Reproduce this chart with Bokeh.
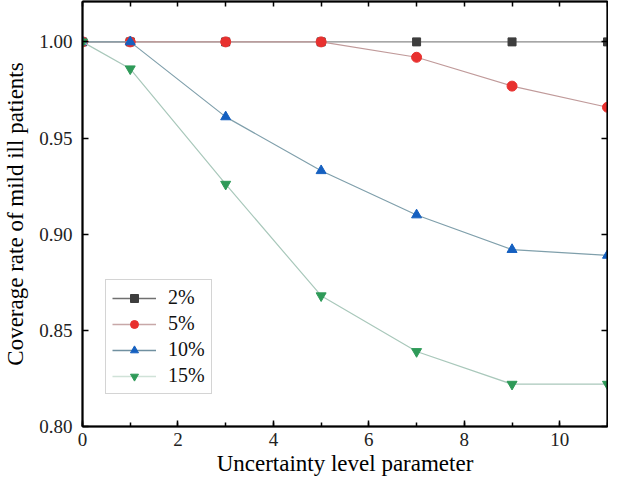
from bokeh.plotting import figure
from bokeh.models import (LinearAxis, SingleIntervalTicker, Range1d, Legend, LegendItem,
                          PrintfTickFormatter, CustomJSTickFormatter)
from bokeh.embed import file_html
from bokeh.resources import INLINE

x_vals = [0, 1, 3, 5, 7, 9, 11]
s2 = [1.000, 1.000, 1.000, 1.000, 1.000, 1.000, 1.000]
s5 = [1.000, 1.000, 1.000, 1.000, 0.992, 0.977, 0.966]
s10 = [1.000, 1.000, 0.961, 0.933, 0.910, 0.892, 0.889]
s15 = [1.000, 0.986, 0.926, 0.868, 0.839, 0.822, 0.822]
labels = ["2%", "5%", "10%", "15%"]

FONT = "Liberation Serif"

p = figure(width=608, height=480, output_backend="svg", toolbar_location=None,
           x_range=Range1d(0, 11), y_range=Range1d(0.80, 1.021),
           min_border_left=78, min_border_right=1, min_border_top=1, min_border_bottom=54)
p.xgrid.visible = False
p.ygrid.visible = False
p.outline_line_color = "black"
p.outline_line_width = 1.5
p.background_fill_color = "white"
p.border_fill_color = "white"

def style_axis(ax, show_labels=True):
    ax.axis_line_color = "black"
    ax.axis_line_width = 2
    ax.major_tick_in = 6
    ax.major_tick_out = 0
    ax.minor_tick_in = 4
    ax.minor_tick_out = 0
    ax.major_tick_line_width = 1.5
    ax.minor_tick_line_width = 1.5
    ax.major_label_text_font = FONT
    ax.major_label_text_font_size = "19px"
    ax.major_label_text_color = "#222222"
    ax.axis_label_text_font = FONT
    ax.axis_label_text_font_size = "23px"
    ax.axis_label_text_font_style = "normal"
    ax.axis_label_text_color = "black"
    if not show_labels:
        ax.formatter = CustomJSTickFormatter(code="return ''")
        ax.major_label_standoff = 0
        ax.major_label_text_font_size = "0px"

xt = SingleIntervalTicker(interval=2, num_minor_ticks=2)
yt = SingleIntervalTicker(interval=0.05, num_minor_ticks=0)

p.xaxis.ticker = xt
p.yaxis.ticker = yt
style_axis(p.xaxis[0])
style_axis(p.yaxis[0])
p.xaxis.axis_label = "Uncertainty level parameter"
p.yaxis.axis_label = "Coverage rate of mild ill patients"
p.yaxis.formatter = PrintfTickFormatter(format="%.2f")
p.xaxis.major_label_standoff = 6
p.yaxis.major_label_standoff = 10
p.xaxis.axis_label_standoff = 2
p.yaxis.axis_label_standoff = 8

top = LinearAxis(ticker=SingleIntervalTicker(interval=1, num_minor_ticks=0))
style_axis(top, show_labels=False)
top.major_tick_in = 5
p.add_layout(top, "above")
right = LinearAxis(ticker=SingleIntervalTicker(interval=0.05, num_minor_ticks=0))
style_axis(right, show_labels=False)
p.add_layout(right, "right")

series = [s2, s5, s10, s15]
line_cols = ["#8a8a8a", "#c09a9a", "#7f9fab", "#a9c8bb"]
leg_line_cols = ["#707070", "#c8a8a8", "#7090a0", "#d0e2d8"]
mark_cols = ["#3d3d3d", "#e8312f", "#1560c0", "#2e9a58"]
markers = ["square", "circle", "triangle", "inverted_triangle"]
sizes = [8, 10, 10, 10]

items = []
for s, lc, llc, mc, mk, sz, lab in zip(series, line_cols, leg_line_cols, mark_cols, markers, sizes, labels):
    p.line(x_vals, s, line_color=lc, line_width=1.2)
    p.scatter(x_vals, s, marker=mk, size=sz, fill_color=mc, line_color=mc)
    lg = p.line([None], [None], line_color=llc, line_width=1.5)
    sg = p.scatter([None], [None], marker=mk, size=sz, fill_color=mc, line_color=mc)
    items.append(LegendItem(label=lab, renderers=[lg, sg]))

legend = Legend(items=items, location=(23, 32))
legend.label_text_font = FONT
legend.label_text_font_size = "20px"
legend.label_text_color = "#111111"
legend.border_line_color = "#aaaaaa"
legend.border_line_width = 1.5
legend.background_fill_alpha = 1
legend.glyph_width = 44
legend.glyph_height = 20
legend.spacing = 3
legend.padding = 6
legend.margin = 0
legend.label_standoff = 12
legend.label_height = 20
p.add_layout(legend, "center")

open("out.html", "w").write(file_html(p, INLINE))
